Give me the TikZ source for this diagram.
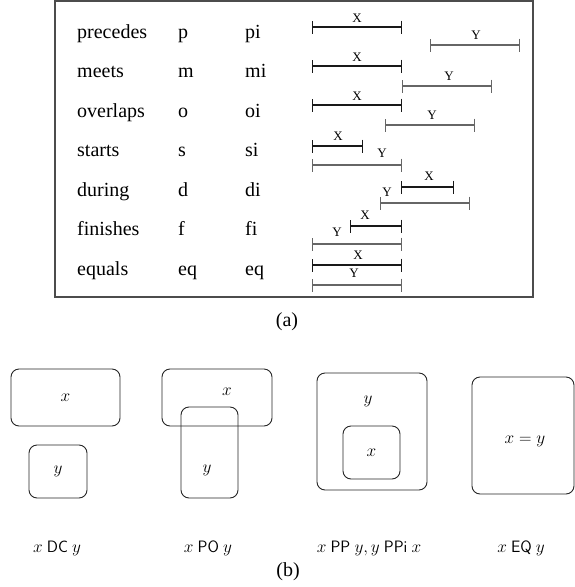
\documentclass[tikz,border=0pt]{standalone}
\usepackage{fontspec}
\setmainfont{Liberation Serif}
\usetikzlibrary{arrows.meta}
\begin{document}
\begin{tikzpicture}[x=1pt,y=-1pt,
  txt/.style={font=\fontsize{20}{24}\selectfont, anchor=base west, inner sep=0pt},
  lab/.style={font=\fontsize{13}{15}\selectfont, inner sep=0pt},
  xbar/.style={line width=1.1pt, black!90, {Bar[width=13pt]}-{Bar[width=13pt]}},
  ybar/.style={line width=1.2pt, black!60, {Bar[width=13pt]}-{Bar[width=13pt]}},
  rbox/.style={draw=black!85, line width=0.9pt, rounded corners=8pt, inner sep=0pt},
  mlab/.style={font=\fontsize{16.5}{19}\selectfont, inner sep=0pt},
  captxt/.style={font=\fontsize{20}{24}\selectfont, inner sep=0pt}]
\useasboundingbox (0,0) rectangle (575,587);
% frame
\draw[black!70, line width=1.3pt] (55,1) rectangle (533,297);
% rows text
\foreach \n/\a/\b/\c/\y in {r1/precedes/p/pi/38, r2/meets/m/mi/77.5, r3/overlaps/o/oi/117, r4/starts/s/si/156.5, r5/during/d/di/196, r6/finishes/f/fi/235.5, r7/equals/eq/eq/275}{
  \node[txt] (\n a) at (77,\y) {\a};
  \node[txt] (\n b) at (178,\y) {\b};
  \node[txt] (\n c) at (245,\y) {\c};
}
% precedes
\draw[xbar] (312,27) -- (402,27); \node[lab] (l1x) at (357,18) {X};
\draw[ybar] (430,45) -- (520,45); \node[lab] (l1y) at (476,35) {Y};
% meets
\draw[xbar] (312,66) -- (402,66); \node[lab] (l2x) at (357,57) {X};
\draw[ybar] (402,86) -- (492,86); \node[lab] (l2y) at (449,76) {Y};
% overlaps
\draw[xbar] (312,105) -- (402,105); \node[lab] (l3x) at (357,96) {X};
\draw[ybar] (385,125) -- (475,125); \node[lab] (l3y) at (432,115) {Y};
% starts
\draw[xbar] (312,146) -- (363,146); \node[lab] (l4x) at (338,136) {X};
\draw[ybar] (312,165) -- (402,165); \node[lab] (l4y) at (382,153) {Y};
% during
\draw[xbar] (401,187) -- (454,187); \node[lab] (l5x) at (429,176) {X};
\draw[ybar] (380,203) -- (470,203); \node[lab] (l5y) at (387,192) {Y};
% finishes
\draw[xbar] (350,226) -- (402,226); \node[lab] (l6x) at (365,215) {X};
\draw[ybar] (312,244) -- (402,244); \node[lab] (l6y) at (337,232) {Y};
% equals
\draw[xbar] (312,265) -- (402,265); \node[lab] (l7x) at (358,255) {X};
\draw[ybar] (312,285) -- (402,285); \node[lab] (l7y) at (354,273) {Y};
\node[captxt] (capa) at (287,322) {(a)};
% part b
\node[rbox, minimum width=109pt, minimum height=57pt, mlab] (dcx) at (65.5,397.5) {$x$};
\node[rbox, minimum width=58pt, minimum height=53pt, mlab] (dcy) at (58,471.5) {$y$};
\node[rbox, minimum width=110pt, minimum height=57pt] (pox) at (217,397.5) {};
\node[mlab] (poxl) at (227,392) {$x$};
\node[rbox, minimum width=57pt, minimum height=91pt] (poy) at (209.5,452.5) {};
\node[mlab] (poyl) at (207,470) {$y$};
\node[rbox, minimum width=110pt, minimum height=117pt] (ppy) at (372,431.5) {};
\node[mlab] (ppyl) at (368,401) {$y$};
\node[rbox, minimum width=57pt, minimum height=53pt, mlab] (ppx) at (371.5,452.5) {$x$};
\node[rbox, minimum width=102pt, minimum height=117pt] (eq) at (523,435.5) {};
\node[mlab] (eql) at (525,441) {$x=y$};
\node[mlab] (c1) at (57,548) {$x$ \textsf{DC} $y$};
\node[mlab] (c2) at (208,548) {$x$ \textsf{PO} $y$};
\node[mlab] (c3) at (369,548) {$x$ \textsf{PP} $y,y$ \textsf{PPi} $x$};
\node[mlab] (c4) at (521,548) {$x$ \textsf{EQ} $y$};
\node[captxt] (capb) at (288,572) {(b)};
\end{tikzpicture}
\end{document}
